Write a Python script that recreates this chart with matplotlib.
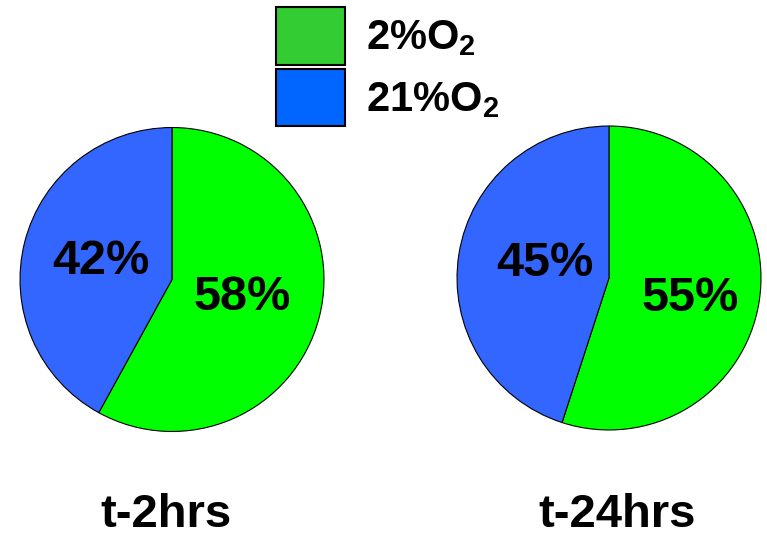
import matplotlib
matplotlib.use("Agg")
import matplotlib.pyplot as plt
from matplotlib.patches import Patch
from matplotlib.transforms import offset_copy

plt.rcParams['font.family'] = ['Liberation Sans', 'DejaVu Sans']
plt.rcParams['font.weight'] = 'bold'
plt.rcParams['mathtext.fontset'] = 'custom'
plt.rcParams['mathtext.rm'] = 'Liberation Sans:bold'
plt.rcParams['mathtext.bf'] = 'Liberation Sans:bold'
plt.rcParams['mathtext.default'] = 'bf'

# share of cells in each condition
groups = ['t-2hrs', 't-24hrs']
low_o2 = [58, 55]
high_o2 = [42, 45]
legend_labels = ['2%O$_2$', '21%O$_2$']

pie_colors = ['#00ff00', '#3366ff']
legend_colors = ['#33cc33', '#0066ff']

W, H = 767, 538
fig = plt.figure(figsize=(W / 100, H / 100), dpi=100)

# pie centres and radius in pixels
centres = [(172, 279.5), (609, 278)]
radius = 153.5
# nudges for the percentage labels (pixels, green then blue)
label_nudge = [[(0, 0), (0, 0)], [(9, -9), (8, 3)]]

for i, name in enumerate(groups):
    cx, cy = centres[i]
    ax = fig.add_axes([(cx - radius) / W, (H - cy - radius) / H,
                       2 * radius / W, 2 * radius / H])
    wedges, texts, autotexts = ax.pie(
        [low_o2[i], high_o2[i]], colors=pie_colors, startangle=90,
        counterclock=False, radius=1, autopct='%.0f%%', pctdistance=0.48,
        wedgeprops=dict(edgecolor='black', linewidth=0.8))
    for t, (dx, dy) in zip(autotexts, label_nudge[i]):
        t.set_fontsize(35)
        t.set_fontweight('bold')
        t.set_color('black')
        t.set_transform(offset_copy(ax.transData, fig=fig, x=dx, y=dy, units='dots'))
    ax.set_xlim(-1.01, 1.01)
    ax.set_ylim(-1.01, 1.01)
    ax.set_aspect('equal')
    ax.axis('off')

fig.text(166 / W, 1 - 527 / H, groups[0], ha='center', va='baseline',
         fontsize=34, fontweight='bold')
fig.text(617 / W, 1 - 527 / H, groups[1], ha='center', va='baseline',
         fontsize=34, fontweight='bold')

handles = [Patch(facecolor=c, edgecolor='black', linewidth=1.5) for c in legend_colors]
fig.legend(handles, legend_labels, loc='upper left',
           bbox_to_anchor=(276 / W, 1 - 7 / H), frameon=False,
           handlelength=1.65, handleheight=1.75,
           handletextpad=0.5, labelspacing=0.1, borderpad=0,
           borderaxespad=0, prop={'weight': 'bold', 'size': 30})

fig.savefig('out.png', dpi=100)
